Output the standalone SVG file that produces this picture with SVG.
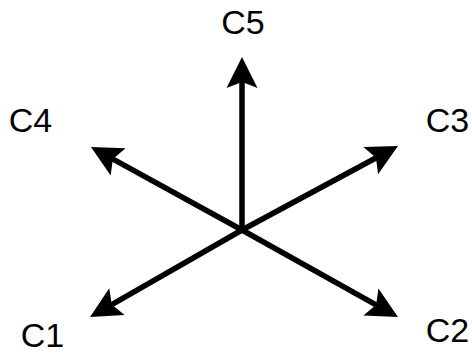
<svg xmlns="http://www.w3.org/2000/svg" width="472" height="358" viewBox="0 0 472 358">
<style>
.lbl{font-family:"Liberation Sans",Arial,sans-serif;font-size:34px;fill:#000;text-anchor:middle}
.ax{stroke:#000;stroke-width:5.5;fill:none;marker-end:url(#ah)}
</style>
<defs>
<marker id="ah" viewBox="-12 -17 34 34" refX="0" refY="0" markerWidth="34" markerHeight="34" markerUnits="userSpaceOnUse" orient="auto">
<path d="M20,0 L-11,-15.5 L-5,0 L-11,15.5 Z" fill="#000"/>
</marker>
</defs>
<rect width="472" height="358" fill="#fff"/>
<g id="connectors">
<line class="ax" x1="242" y1="230" x2="242" y2="77"/>
<line class="ax" x1="242" y1="230" x2="380.4" y2="155.5"/>
<line class="ax" x1="242" y1="230" x2="108.5" y2="156.6"/>
<line class="ax" x1="242" y1="230" x2="107.4" y2="307.1"/>
<line class="ax" x1="242" y1="230" x2="380.5" y2="307.3"/>
</g>
<g id="C5"><text class="lbl" x="243" y="34">C5</text></g>
<g id="C4"><text class="lbl" x="30.5" y="132">C4</text></g>
<g id="C3"><text class="lbl" x="447.5" y="132">C3</text></g>
<g id="C1"><text class="lbl" x="42.5" y="347">C1</text></g>
<g id="C2"><text class="lbl" x="447.5" y="342">C2</text></g>
</svg>
